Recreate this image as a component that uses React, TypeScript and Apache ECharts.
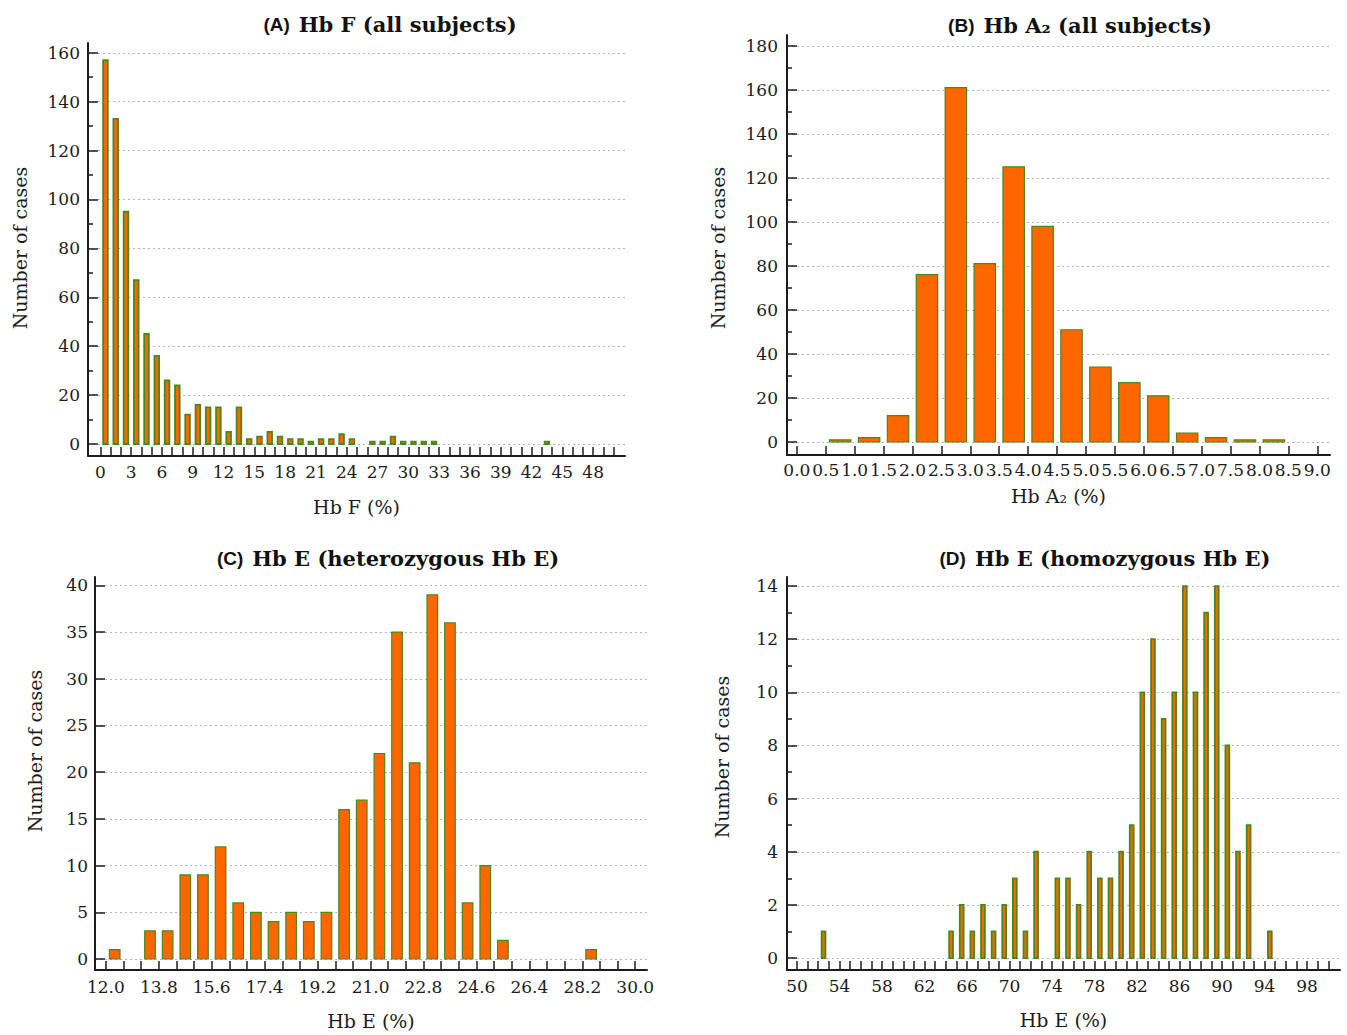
import React, { useEffect, useRef } from "react";
import * as echarts from "echarts";

// ---------- DATA ----------
// (A) Hb F (all subjects): number of cases per 1% bin, bins start at 0%
const hbFStart = 0;
const hbFWidth = 1;
const hbFCounts = [
  157, 133, 95, 67, 45, 36, 26, 24, 12, 16,
  15, 15, 5, 15, 2, 3, 5, 3, 2, 2,
  1, 2, 2, 4, 2, 0, 1, 1, 3, 1,
  1, 1, 1, 0, 0, 0, 0, 0, 0, 0,
  0, 0, 0, 1, 0, 0, 0, 0, 0, 0,
];
const hbFTickLabels = [0, 3, 6, 9, 12, 15, 18, 21, 24, 27, 30, 33, 36, 39, 42, 45, 48];
const hbFCountLabels = [0, 20, 40, 60, 80, 100, 120, 140, 160];
const hbFCountMinor = [10, 30, 50, 70, 90, 110, 130, 150];

// (B) Hb A2 (all subjects): 0.5% bins starting at 0.0%
const hbA2Start = 0;
const hbA2Width = 0.5;
const hbA2Counts = [0, 1, 2, 12, 76, 161, 81, 125, 98, 51, 34, 27, 21, 4, 2, 1, 1, 0];
const hbA2TickLabels = [0.0, 0.5, 1.0, 1.5, 2.0, 2.5, 3.0, 3.5, 4.0, 4.5, 5.0, 5.5, 6.0, 6.5, 7.0, 7.5, 8.0, 8.5, 9.0];
const hbA2CountLabels = [0, 20, 40, 60, 80, 100, 120, 140, 160, 180];
const hbA2CountMinor = [10, 30, 50, 70, 90, 110, 130, 150, 170];

// (C) Hb E (heterozygous Hb E): 0.6% bins starting at 12.0%
const hbEHetStart = 12.0;
const hbEHetWidth = 0.6;
const hbEHetCounts = [
  1, 0, 3, 3, 9, 9, 12, 6, 5, 4,
  5, 4, 5, 16, 17, 22, 35, 21, 39, 36,
  6, 10, 2, 0, 0, 0, 0, 1, 0, 0,
];
const hbEHetTickLabels = [12.0, 13.8, 15.6, 17.4, 19.2, 21.0, 22.8, 24.6, 26.4, 28.2, 30.0];
const hbEHetCountLabels = [0, 5, 10, 15, 20, 25, 30, 35, 40];
const hbEHetCountMinor: number[] = [];

// (D) Hb E (homozygous Hb E): 1% bins starting at 50%
const hbEHomoStart = 50;
const hbEHomoWidth = 1;
const hbEHomoCounts = [
  0, 0, 1, 0, 0, 0, 0, 0, 0, 0,
  0, 0, 0, 0, 1, 2, 1, 2, 1, 2,
  3, 1, 4, 0, 3, 3, 2, 4, 3, 3,
  4, 5, 10, 12, 9, 10, 14, 10, 13, 14,
  8, 4, 5, 0, 1, 0, 0, 0, 0, 0,
];
const hbEHomoTickLabels = [50, 54, 58, 62, 66, 70, 74, 78, 82, 86, 90, 94, 98];
const hbEHomoCountLabels = [0, 2, 4, 6, 8, 10, 12, 14];
const hbEHomoCountMinor = [1, 3, 5, 7, 9, 11, 13];

// ---------- STYLE ----------
const BAR_FILL = "#FF6600";
const BAR_EDGE = "#458A1C";
const AXIS = "#1c1c1c";
const SERIF = "DejaVu Serif";
const LABEL_SIZE = 17;
const NAME_SIZE = 19;

const toBins = (start: number, width: number, counts: number[]) =>
  counts.map((c, i) => [
    +(start + i * width).toFixed(4),
    +(start + (i + 1) * width).toFixed(4),
    c,
  ]);
const toEdges = (start: number, width: number, counts: number[]) =>
  counts.map((_, i) => +(start + i * width).toFixed(4)).concat(+(start + counts.length * width).toFixed(4));

type Panel = {
  grid: { left: number; top: number; width: number; height: number };
  xMin: number; xMax: number; yMin: number; yMax: number;
  bins: number[][]; edges: number[];
  xLabels: number[]; digits: number;
  yLabels: number[]; yMinor: number[];
  barFrac: number; edgeWidth: number; xName: string; xNameGap: number; xLabelMargin: number; yLabelMargin: number;
};

const panels: Panel[] = [
  {
    grid: { left: 88, top: 43, width: 537, height: 413 },
    xMin: -1.2, xMax: 51.1, yMin: -4.9, yMax: 164,
    bins: toBins(hbFStart, hbFWidth, hbFCounts), edges: toEdges(hbFStart, hbFWidth, hbFCounts),
    xLabels: hbFTickLabels, digits: 0, yLabels: hbFCountLabels, yMinor: hbFCountMinor,
    barFrac: 0.45, edgeWidth: 1.8, xName: "Hb F (%)", xNameGap: 41, xLabelMargin: 7, yLabelMargin: 8,
  },
  {
    grid: { left: 787, top: 35, width: 543, height: 420 },
    xMin: -0.17, xMax: 9.22, yMin: -5.9, yMax: 184.9,
    bins: toBins(hbA2Start, hbA2Width, hbA2Counts), edges: toEdges(hbA2Start, hbA2Width, hbA2Counts),
    xLabels: hbA2TickLabels, digits: 1, yLabels: hbA2CountLabels, yMinor: hbA2CountMinor,
    barFrac: 0.74, edgeWidth: 1.2, xName: "Hb A\u2082 (%)", xNameGap: 31, xLabelMargin: 6, yLabelMargin: 9,
  },
  {
    grid: { left: 95, top: 577, width: 552, height: 393 },
    xMin: 11.63, xMax: 30.4, yMin: -1.18, yMax: 40.9,
    bins: toBins(hbEHetStart, hbEHetWidth, hbEHetCounts), edges: toEdges(hbEHetStart, hbEHetWidth, hbEHetCounts),
    xLabels: hbEHetTickLabels, digits: 1, yLabels: hbEHetCountLabels, yMinor: hbEHetCountMinor,
    barFrac: 0.6, edgeWidth: 1.2, xName: "Hb E (%)", xNameGap: 41, xLabelMargin: 8, yLabelMargin: 7,
  },
  {
    grid: { left: 787, top: 577, width: 553, height: 393 },
    xMin: 49.06, xMax: 101.1, yMin: -0.45, yMax: 14.34,
    bins: toBins(hbEHomoStart, hbEHomoWidth, hbEHomoCounts), edges: toEdges(hbEHomoStart, hbEHomoWidth, hbEHomoCounts),
    xLabels: hbEHomoTickLabels, digits: 0, yLabels: hbEHomoCountLabels, yMinor: hbEHomoCountMinor,
    barFrac: 0.36, edgeWidth: 1.8, xName: "Hb E (%)", xNameGap: 40, xLabelMargin: 7, yLabelMargin: 9,
  },
];

const titles = [
  { center: 390, top: 9, tag: "(A)", text: "Hb F (all subjects)" },
  { center: 1080, top: 10, tag: "(B)", text: "Hb A\u2082 (all subjects)" },
  { center: 388, top: 543, tag: "(C)", text: "Hb E (heterozygous Hb E)" },
  { center: 1105, top: 543, tag: "(D)", text: "Hb E (homozygous Hb E)" },
];

const yNames = [
  { x: 20, y: 248 },
  { x: 718, y: 248 },
  { x: 35, y: 751 },
  { x: 722, y: 757 },
];

function binRenderer(frac: number, edgeWidth: number) {
  return (_params: any, api: any) => {
    const lo = api.value(0);
    const hi = api.value(1);
    const n = api.value(2);
    if (!n) return null;
    const mid = (lo + hi) / 2;
    const half = ((hi - lo) * frac) / 2;
    const p0 = api.coord([mid - half, 0]);
    const p1 = api.coord([mid + half, n]);
    return {
      type: "rect",
      shape: { x: p0[0], y: p1[1], width: p1[0] - p0[0], height: p0[1] - p1[1] },
      style: { fill: BAR_FILL, stroke: BAR_EDGE, lineWidth: edgeWidth },
    };
  };
}

function buildOption() {
  const grid: any[] = [];
  const xAxis: any[] = [];
  const yAxis: any[] = [];
  const series: any[] = [];
  panels.forEach((p, i) => {
    grid.push({ ...p.grid, containLabel: false, outerBoundsMode: "none" });
    xAxis.push({
      type: "value",
      gridIndex: i,
      position: "bottom",
      min: p.xMin,
      max: p.xMax,
      axisLine: { show: true, onZero: false, lineStyle: { color: AXIS, width: 2 } },
      axisTick: { show: true, inside: true, length: 9, customValues: p.edges, lineStyle: { color: AXIS, width: 1.5 } },
      axisLabel: {
        show: true,
        customValues: p.xLabels,
        margin: p.xLabelMargin,
        hideOverlap: false,
        formatter: (v: number) => v.toFixed(p.digits),
        fontFamily: SERIF,
        fontSize: LABEL_SIZE,
        color: AXIS,
      },
      splitLine: { show: false },
      name: p.xName,
      nameLocation: "middle",
      nameGap: p.xNameGap,
      nameTextStyle: { fontFamily: SERIF, fontSize: NAME_SIZE, color: AXIS },
    });
    yAxis.push({
      type: "value",
      gridIndex: i,
      position: "left",
      min: p.yMin,
      max: p.yMax,
      axisLine: { show: true, onZero: false, lineStyle: { color: AXIS, width: 2 } },
      axisTick: { show: true, inside: true, length: 10, customValues: p.yLabels, lineStyle: { color: AXIS, width: 1.5 } },
      axisLabel: {
        show: true,
        customValues: p.yLabels,
        margin: p.yLabelMargin,
        hideOverlap: false,
        fontFamily: SERIF,
        fontSize: LABEL_SIZE,
        color: AXIS,
      },
      splitLine: { show: true, lineStyle: { color: "#b5b5b5", type: [2, 3], width: 1 } },
    });
    yAxis.push({
      type: "value",
      gridIndex: i,
      position: "left",
      min: p.yMin,
      max: p.yMax,
      axisLine: { show: false, onZero: false },
      axisTick: { show: p.yMinor.length > 0, inside: true, length: 5, customValues: p.yMinor.length ? p.yMinor : [0], lineStyle: { color: AXIS, width: 1.5 } },
      axisLabel: { show: false },
      splitLine: { show: false },
    });
    series.push({
      type: "custom",
      xAxisIndex: i,
      yAxisIndex: 2 * i,
      data: p.bins,
      encode: { x: [0, 1], y: 2 },
      renderItem: binRenderer(p.barFrac, p.edgeWidth),
      clip: false,
    });
  });

  const title = titles.map((t) => ({
    left: t.center,
    top: t.top,
    textAlign: "center",
    padding: 0,
    text: `{a|${t.tag}}{s| }{b|${t.text}}`,
    textStyle: {
      rich: {
        a: { fontFamily: "Liberation Sans", fontWeight: "bold", fontSize: 19, color: "#111", lineHeight: 30 },
        s: { fontSize: 10, width: 9, lineHeight: 30 },
        b: { fontFamily: SERIF, fontWeight: "bold", fontSize: 21, color: "#111", lineHeight: 30 },
      },
    },
  }));

  const graphic = yNames.map((n) => ({
    type: "text",
    x: n.x,
    y: n.y,
    rotation: Math.PI / 2,
    style: {
      text: "Number of cases",
      fontFamily: SERIF,
      fontSize: NAME_SIZE,
      fill: AXIS,
      align: "center",
      verticalAlign: "middle",
      textAlign: "center",
      textVerticalAlign: "middle",
    },
  }));

  return {
    animation: false,
    backgroundColor: "#ffffff",
    title,
    grid,
    xAxis,
    yAxis,
    series,
    graphic,
  };
}

export default function App() {
  const ref = useRef<HTMLDivElement>(null);
  useEffect(() => {
    if (!ref.current) return;
    const chart = echarts.init(ref.current, undefined, { renderer: "svg" });
    chart.setOption(buildOption() as any);
    return () => chart.dispose();
  }, []);
  return (
    <div
      ref={ref}
      style={{ position: "absolute", left: 0, top: 0, width: 1347, height: 1035, background: "#fff" }}
    />
  );
}
